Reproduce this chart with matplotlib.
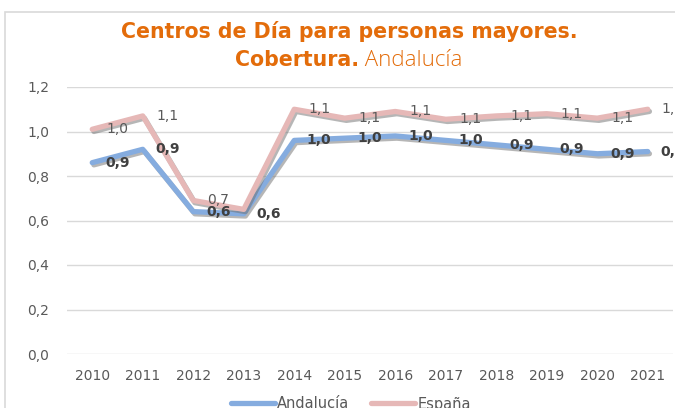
import matplotlib
matplotlib.use('Agg')
import matplotlib.pyplot as plt
import matplotlib.patheffects as pe
from matplotlib.patches import Rectangle

# data
years = ['2010', '2011', '2012', '2013', '2014', '2015', '2016', '2017', '2018', '2019', '2020', '2021']
andalucia = [0.86, 0.92, 0.64, 0.63, 0.96, 0.97, 0.98, 0.96, 0.94, 0.92, 0.90, 0.91]
espana = [1.01, 1.07, 0.69, 0.65, 1.10, 1.06, 1.09, 1.055, 1.07, 1.08, 1.06, 1.10]
yticks = [0.0, 0.2, 0.4, 0.6, 0.8, 1.0, 1.2]

orange = '#E36C0A'
blue = '#85ACDF'
pink = '#E6B8B7'
grey_txt = '#595959'
narrow = ['Liberation Sans Narrow', 'DejaVu Sans']

fig = plt.figure(figsize=(6.75, 4.08), dpi=100)
W, H = 675, 408

# chart border (cropped at right / bottom)
fig.patches.append(Rectangle((5 / W, -0.1), 1.2, (H - 12) / H + 0.1, transform=fig.transFigure,
                             fill=False, edgecolor='#D9D9D9', linewidth=1.2))

ax = fig.add_axes([67 / W, (H - 354) / H, (673 - 67) / W, (354 - 87) / H])
x = list(range(len(years)))

shadow = [pe.SimpleLineShadow(offset=(1.2, -1.6), shadow_color='#6F6F6F', alpha=0.5), pe.Normal()]
ax.plot(x, andalucia, color=blue, lw=3.8, solid_capstyle='round', path_effects=shadow, label='Andalucía', zorder=3)
ax.plot(x, espana, color=pink, lw=3.8, solid_capstyle='round', path_effects=shadow, label='España', zorder=3)

ax.set_xlim(-0.5, len(years) - 0.5)
ax.set_ylim(0, 1.2)
ax.set_yticks(yticks)
ax.set_yticklabels([f'{v:.1f}'.replace('.', ',') for v in yticks])
ax.set_xticks(x)
ax.set_xticklabels(years)
for lab in ax.get_xticklabels() + ax.get_yticklabels():
    lab.set_family(narrow)
    lab.set_fontsize(10)
    lab.set_color(grey_txt)
ax.tick_params(length=0, pad=13)
ax.tick_params(axis='x', pad=11)
ax.grid(axis='y', color='#D9D9D9', lw=1)
ax.set_axisbelow(True)
for s in ax.spines.values():
    s.set_visible(False)

# data labels, to the right of the points
for i, v in enumerate(espana):
    if years[i] == '2013':
        continue  # hidden behind the Andalucía label in the original
    ax.annotate(f'{v:.1f}'.replace('.', ','), (i, v), xytext=(18, 0), textcoords='offset points',
                ha='center', va='center', fontsize=10, color=grey_txt, family=narrow, annotation_clip=False)
for i, v in enumerate(andalucia):
    ax.annotate(f'{v:.1f}'.replace('.', ','), (i, v), xytext=(18, 0), textcoords='offset points',
                ha='center', va='center', fontsize=10, color='#404040', fontweight='bold',
                family=narrow, annotation_clip=False)

# title
fig.text(349 / W, 1 - 32 / H, 'Centros de Día para personas mayores.', ha='center', va='center',
         fontsize=14.8, fontweight='bold', color=orange, family='DejaVu Sans')
fig.canvas.draw()
r = fig.canvas.get_renderer()
t1 = fig.text(0, 1 - 60 / H, 'Cobertura.', ha='left', va='center', fontsize=14.8,
              fontweight='bold', color=orange, family='DejaVu Sans')
t2 = fig.text(0, 1 - 60 / H, ' Andalucía', ha='left', va='center', fontsize=16,
              fontweight='light', color=orange, family='Open Sans')
w1 = t1.get_window_extent(r).width
w2 = t2.get_window_extent(r).width
x0 = 349 - (w1 + w2) / 2
t1.set_x(x0 / W)
t2.set_x((x0 + w1) / W)

leg = fig.legend(loc='center', bbox_to_anchor=(351 / W, 4 / H), ncol=2, frameon=False,
                 prop={'family': narrow, 'size': 10.5}, handlelength=3.0, handletextpad=0.15,
                 columnspacing=1.5, labelcolor=grey_txt)
for ln in leg.get_lines():
    ln.set_path_effects([])

fig.savefig('out.png', dpi=100)
